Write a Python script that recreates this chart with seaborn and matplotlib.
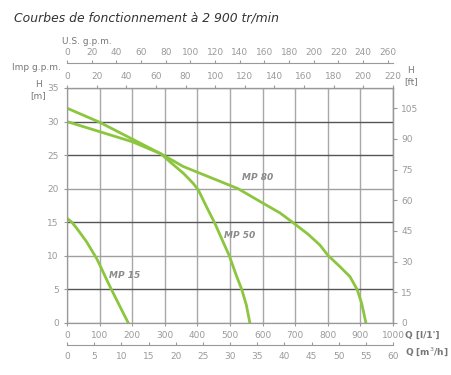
import pandas as pd
import matplotlib
matplotlib.use('Agg')
import matplotlib.pyplot as plt
import seaborn as sns

# Values (Q in l/min, H in m)
q_mp15 = [0, 15, 30, 60, 91, 101, 132, 163, 188]
h_mp15 = [15.6, 15.0, 14.1, 12.1, 9.6, 8.6, 5.4, 2.4, 0]

q_mp50 = [0, 100, 200, 288, 316, 357, 387, 403, 428, 454, 485, 498, 520, 536, 550, 561]
h_mp50 = [30, 28.5, 27.0, 25.2, 24.0, 22.3, 20.8, 19.8, 17.3, 14.8, 11.4, 10, 7, 5, 2.7, 0]

q_mp80 = [0, 100, 200, 288, 357, 459, 525, 592, 653, 692, 740, 776, 800, 837, 868, 890, 904, 917]
h_mp80 = [32, 29.9, 27.4, 25.2, 23.3, 21.3, 20, 18.1, 16.4, 15, 13.2, 11.6, 10.1, 8.4, 6.9, 5, 2.9, 0]

pump_names = ['MP 15', 'MP 50', 'MP 80']
label_pos = [(178, 7.1), (529, 13.1), (585, 21.6)]

lmin_ticks = list(range(0, 1001, 100))
h_ticks = list(range(0, 36, 5))
imp_ticks = list(range(0, 221, 20))
us_ticks = list(range(0, 261, 20))
m3h_ticks = list(range(0, 61, 5))
ft_ticks = list(range(0, 106, 15))

df = pd.concat([
    pd.DataFrame({'Q': q_mp15, 'H': h_mp15, 'pump': 'MP 15'}),
    pd.DataFrame({'Q': q_mp50, 'H': h_mp50, 'pump': 'MP 50'}),
    pd.DataFrame({'Q': q_mp80, 'H': h_mp80, 'pump': 'MP 80'}),
])

plt.rcParams['font.family'] = ['DejaVu Sans']
tick_col = '#9a9a9a'
lab_col = '#777777'
green = '#8cc63f'

fig = plt.figure(figsize=(4.52, 3.75), dpi=100)
ax = fig.add_axes([67 / 452, 1 - 323 / 375, 326 / 452, 235 / 375])

for name in pump_names:
    sns.lineplot(data=df[df['pump'] == name], x='Q', y='H', sort=False,
                 color=green, lw=2.0, ax=ax)

for name, (qx, hy) in zip(pump_names, label_pos):
    ax.text(qx, hy, name, ha='center', va='center', fontsize=6.5,
            style='italic', fontweight='bold', color='#8a8a8a')

ax.set_xlim(0, 1000)
ax.set_ylim(0, 35)
ax.set_xticks(lmin_ticks)
ax.set_yticks(h_ticks)
ax.set_xlabel('')
ax.set_ylabel('')
ax.tick_params(colors=tick_col, labelsize=6.5, length=2, width=0.8, pad=4)
for s in ax.spines.values():
    s.set_color('#999999')
    s.set_linewidth(0.9)

ax.grid(axis='x', color='#a8a8a8', lw=1.0)
ax.grid(axis='y', lw=1.0)
for val, gl in zip(h_ticks, ax.yaxis.get_gridlines()):
    gl.set_color('#555555' if val in (30, 25, 15, 5) else '#a0a0a0')
ax.set_axisbelow(True)

# Imp gallons per minute on top of the plot box (220 sits on the right edge)
imp = ax.secondary_xaxis('top', functions=(lambda q: q / 4.545, lambda g: g * 4.545))
imp.set_xticks(imp_ticks)
imp.tick_params(colors=tick_col, labelsize=6.5, length=2, pad=3)
imp.spines['top'].set_color('#999999')

# US gallons per minute on a separate line above
us = ax.secondary_xaxis((323 - 63) / 235, functions=(lambda q: q / 3.78541, lambda g: g * 3.78541))
us.set_xticks(us_ticks)
us.xaxis.set_ticks_position('top')
us.tick_params(colors=tick_col, labelsize=6.5, length=2, pad=2)
for s in us.spines.values():
    s.set_color('#999999')

# m3/h below
m3h = ax.secondary_xaxis((323 - 345) / 235, functions=(lambda q: q * 0.06, lambda m: m / 0.06))
m3h.set_xticks(m3h_ticks)
m3h.xaxis.set_ticks_position('bottom')
m3h.tick_params(colors=tick_col, labelsize=6.5, length=2, direction='in', pad=5)
for s in m3h.spines.values():
    s.set_color('#999999')

# feet on the right
ft = ax.secondary_yaxis('right', functions=(lambda m: m * 3.28084, lambda f: f / 3.28084))
ft.set_yticks(ft_ticks)
ft.tick_params(colors=tick_col, labelsize=6.5, length=3, pad=3)

def ftxt(x, y, s, **kw):
    fig.text(x / 452, 1 - y / 375, s, color=lab_col, fontsize=6.5, va='center', **kw)

ftxt(14, 18, 'Courbes de fonctionnement à 2 900 tr/min')
fig.texts[-1].set(fontsize=8.9, style='italic', color='#333333')
ftxt(62, 41, 'U.S. g.p.m.')
ftxt(12, 67, 'Imp g.p.m.')
ftxt(38, 90, 'H\n[m]', ha='center', linespacing=1.3)
ftxt(411, 76, 'H\n[ft]', ha='center', linespacing=1.3)
ftxt(405, 335, "Q [l/1']", fontweight='bold')
ftxt(405, 352, 'Q [m$^3$/h]', fontweight='bold')

fig.savefig('out.png', dpi=100, facecolor='white')
